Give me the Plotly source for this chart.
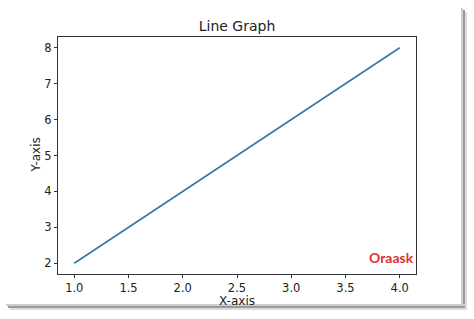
import plotly.graph_objects as go

x_vals = [1, 2, 3, 4]
y_vals = [2, 4, 6, 8]
x_ticks = [1.0, 1.5, 2.0, 2.5, 3.0, 3.5, 4.0]
x_tick_labels = ["1.0", "1.5", "2.0", "2.5", "3.0", "3.5", "4.0"]
y_ticks = [2, 3, 4, 5, 6, 7, 8]

W, H = 474, 319
L, R, T, B = 58, 416, 37, 274

def px(x):
    return (x - L) / (R - L)

def py(y):
    return (B - y) / (B - T)

fig = go.Figure()
fig.add_trace(go.Scatter(x=x_vals, y=y_vals, mode="lines",
                         line=dict(color="#2f7aa8", width=1.6), showlegend=False))

font = "DejaVu Sans, Arial, sans-serif"
axis_common = dict(showgrid=False, zeroline=False, showline=True, mirror=True,
                   linecolor="#333333", linewidth=1, ticks="outside", ticklen=3,
                   tickcolor="#333333", tickfont=dict(family=font, size=11.5, color="#222222"))

fig.update_layout(
    width=W, height=H,
    margin=dict(l=L, r=W - R, t=T, b=H - B),
    paper_bgcolor="white", plot_bgcolor="white",
    title=dict(text="Line Graph", x=(L + R) / 2 / W, xanchor="center",
               y=1 - 26 / H, yanchor="middle",
               font=dict(family=font, size=14, color="#222222")),
    xaxis=dict(range=[0.85, 4.15], tickvals=x_ticks, ticktext=x_tick_labels, **axis_common),
    yaxis=dict(range=[1.7, 8.3], tickvals=y_ticks, **axis_common),
    shapes=[
        dict(type="rect", xref="paper", yref="paper", x0=px(461), x1=px(463), y0=py(306), y1=py(8),
             fillcolor="#cfcfcf", line=dict(width=0), layer="below"),
        dict(type="rect", xref="paper", yref="paper", x0=px(463), x1=px(465), y0=py(307), y1=py(10),
             fillcolor="#9a9a9a", line=dict(width=0), layer="below"),
        dict(type="rect", xref="paper", yref="paper", x0=px(465), x1=px(467), y0=py(308), y1=py(12),
             fillcolor="#dcdcdc", line=dict(width=0), layer="below"),
        dict(type="rect", xref="paper", yref="paper", x0=px(6), x1=px(465), y0=py(306), y1=py(304),
             fillcolor="#cfcfcf", line=dict(width=0), layer="below"),
        dict(type="rect", xref="paper", yref="paper", x0=px(8), x1=px(465), y0=py(308), y1=py(306),
             fillcolor="#9a9a9a", line=dict(width=0), layer="below"),
        dict(type="rect", xref="paper", yref="paper", x0=px(10), x1=px(467), y0=py(310), y1=py(308),
             fillcolor="#dcdcdc", line=dict(width=0), layer="below"),
    ],
    annotations=[
        dict(text="X-axis", xref="paper", yref="paper", x=0.5, y=py(300.5),
             xanchor="center", yanchor="middle", showarrow=False,
             font=dict(family=font, size=12, color="#222222")),
        dict(text="Y-axis", xref="paper", yref="paper", x=px(35), y=0.5, textangle=-90,
             xanchor="center", yanchor="middle", showarrow=False,
             font=dict(family=font, size=12, color="#222222")),
        dict(text="<b>Oraask</b>", xref="paper", yref="paper", x=1.0, y=py(257),
             xanchor="right", yanchor="middle", showarrow=False,
             font=dict(family="Lato, Arial, sans-serif", size=14, color="#d9322b")),
    ],
)

fig.write_html("out.html")
